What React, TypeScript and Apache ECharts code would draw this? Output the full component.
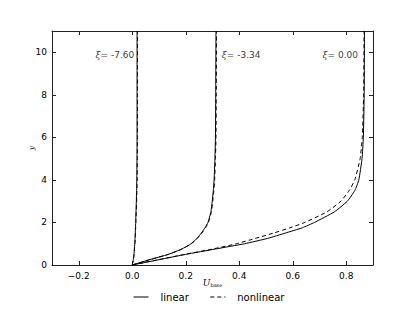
import React, { useEffect, useRef } from "react";
import * as echarts from "echarts";

// y coordinates (shared sampling)
const yLevels = [0, 0.25, 0.5, 0.75, 1.0, 1.25, 1.5, 1.75, 2.0, 2.5, 3.0, 3.5, 4, 5, 6, 8, 11];

// U_base values, linear model
const linA = [0, 0.004, 0.0065, 0.008, 0.0095, 0.0105, 0.0113, 0.012, 0.0128, 0.014, 0.0153, 0.0162, 0.017, 0.0177, 0.018, 0.018, 0.018];
const linB = [0, 0.065, 0.135, 0.185, 0.22, 0.242, 0.258, 0.272, 0.283, 0.294, 0.299, 0.303, 0.306, 0.309, 0.311, 0.312, 0.313];
const linC = [0, 0.10, 0.20, 0.31, 0.42, 0.506, 0.572, 0.636, 0.681, 0.756, 0.804, 0.832, 0.847, 0.859, 0.864, 0.867, 0.868];

// U_base values, nonlinear model
const nonA = [0, 0.004, 0.0066, 0.0082, 0.0098, 0.011, 0.0119, 0.0127, 0.0136, 0.015, 0.0164, 0.0174, 0.0182, 0.019, 0.0194, 0.0196, 0.0197];
const nonB = [0, 0.065, 0.135, 0.186, 0.221, 0.243, 0.26, 0.274, 0.285, 0.296, 0.301, 0.305, 0.308, 0.311, 0.313, 0.314, 0.315];
const nonC = [0, 0.098, 0.196, 0.30, 0.39, 0.46, 0.528, 0.59, 0.645, 0.728, 0.78, 0.811, 0.832, 0.852, 0.86, 0.865, 0.867];

const xiLabels = ["-7.60", "-3.34", "0.00"];
const xiPositions: [number, number][] = [[0.0075, 9.86], [0.335, 9.86], [0.844, 9.86]];
const xiSides = ["left", "right", "left"];

const xTickValues = [-0.2, 0, 0.2, 0.4, 0.6, 0.8];
const yTickValues = [0, 2, 4, 6, 8, 10];

const pair = (xs: number[]) => xs.map((x, i) => [x, yLevels[i]]);
const fmtX = (v: number) => (v < 0 ? "\u2212" + Math.abs(v).toFixed(1) : v.toFixed(1));

export default function App() {
  const ref = useRef<HTMLDivElement>(null);
  useEffect(() => {
    if (!ref.current) return;
    const chart = echarts.init(ref.current, null, { renderer: "svg" });
    const axisColor = "#222";
    const tickStyle = { show: true, inside: true, length: 4, lineStyle: { color: axisColor, width: 1 } };
    const lineSeries = (name: string, xs: number[], dashed: boolean) => ({
      name,
      type: "line",
      data: pair(xs),
      symbol: "none",
      showSymbol: false,
      smooth: 0.15,
      xAxisIndex: 0,
      yAxisIndex: 0,
      lineStyle: { color: "#000", width: 1, type: dashed ? [4, 3] : "solid" },
      itemStyle: { color: "#000" },
      z: dashed ? 3 : 2,
    });
    chart.setOption({
      animation: false,
      grid: { left: 52, right: 42, top: 31, bottom: 47 },
      legend: {
        data: ["linear", "nonlinear"],
        top: 292,
        left: 133,
        padding: 0,
        itemWidth: 15,
        itemHeight: 10,
        itemGap: 21,
        itemStyle: { opacity: 0 },
        lineStyle: { width: 1 },
        textStyle: { fontFamily: "DejaVu Sans", fontSize: 10, color: "#000", padding: [0, 0, 0, 7] },
      },
      xAxis: [
        {
          type: "value",
          min: -0.3,
          max: 0.9,
          position: "bottom",
          splitLine: { show: false },
          axisLine: { show: true, onZero: false, lineStyle: { color: axisColor } },
          axisTick: { ...tickStyle, customValues: xTickValues },
          axisLabel: {
            customValues: xTickValues,
            formatter: fmtX,
            fontFamily: "DejaVu Sans",
            fontSize: 9,
            color: "#000",
            margin: 6,
          },
          name: "{u|U}{s|base}",
          nameLocation: "middle",
          nameGap: 13,
          nameMoveOverlap: false,
          nameTextStyle: {
            rich: {
              u: { fontFamily: "DejaVu Serif", fontStyle: "italic", fontSize: 9, color: "#000" },
              s: { fontFamily: "DejaVu Serif", fontSize: 5, color: "#000", verticalAlign: "bottom", padding: [4, 0, 0, 0] },
            },
          },
        },
        {
          type: "value",
          min: -0.3,
          max: 0.9,
          position: "top",
          splitLine: { show: false },
          axisLine: { show: true, onZero: false, lineStyle: { color: axisColor } },
          axisTick: { ...tickStyle, customValues: xTickValues },
          axisLabel: { show: false },
        },
      ],
      yAxis: [
        {
          type: "value",
          min: 0,
          max: 11,
          position: "left",
          splitLine: { show: false },
          axisLine: { show: true, onZero: false, lineStyle: { color: axisColor } },
          axisTick: { ...tickStyle, customValues: yTickValues },
          axisLabel: {
            customValues: yTickValues,
            fontFamily: "DejaVu Sans",
            fontSize: 9,
            color: "#000",
            margin: 5,
          },
          name: "y",
          nameLocation: "middle",
          nameGap: 17,
          nameRotate: 90,
          nameMoveOverlap: false,
          nameTextStyle: { fontFamily: "DejaVu Serif", fontStyle: "italic", fontSize: 7, color: "#000" },
        },
        {
          type: "value",
          min: 0,
          max: 11,
          position: "right",
          splitLine: { show: false },
          axisLine: { show: true, onZero: false, lineStyle: { color: axisColor } },
          axisTick: { ...tickStyle, customValues: yTickValues },
          axisLabel: { show: false },
        },
      ],
      series: [
        lineSeries("linear", linA, false),
        lineSeries("linear", linB, false),
        lineSeries("linear", linC, false),
        lineSeries("nonlinear", nonA, true),
        lineSeries("nonlinear", nonB, true),
        lineSeries("nonlinear", nonC, true),
        {
          name: "xi",
          type: "scatter",
          symbolSize: 0,
          silent: true,
          data: xiPositions.map((p, i) => ({
            value: p,
            label: {
              show: true,
              position: xiSides[i],
              distance: 0,
              formatter: "{i|\u03be}= " + xiLabels[i],
              fontFamily: "DejaVu Sans",
              fontSize: 9,
              color: "#000",
              rich: { i: { fontFamily: "DejaVu Serif", fontStyle: "italic", fontSize: 9, color: "#000" } },
            },
          })),
        },
      ],
    });
    return () => chart.dispose();
  }, []);
  return <div ref={ref} style={{ width: 415, height: 312, position: "absolute", left: 0, top: 0 }} />;
}
